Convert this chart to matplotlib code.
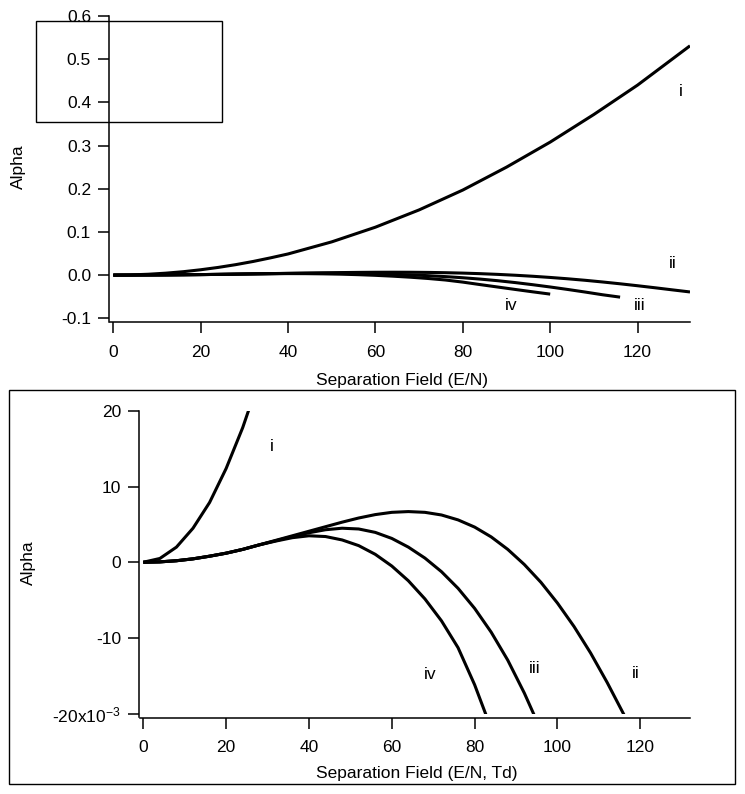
import matplotlib
matplotlib.use("Agg")
import matplotlib.pyplot as plt
from matplotlib.patches import Rectangle

plt.rcParams['font.family'] = ['Liberation Sans', 'DejaVu Sans']
plt.rcParams['mathtext.fontset'] = 'custom'
plt.rcParams['mathtext.rm'] = 'Liberation Sans'
plt.rcParams['mathtext.it'] = 'Liberation Sans'
plt.rcParams['axes.unicode_minus'] = False

# ---- data ----
x_i = [0, 4, 8, 12, 16, 20, 24, 28, 32, 36, 40, 50, 60, 70, 80, 90, 100, 110, 120, 132]
a_i = [0, 0.0005, 0.002, 0.0045, 0.0079, 0.0124, 0.0178, 0.0242, 0.0316, 0.040,
       0.049, 0.077, 0.111, 0.151, 0.197, 0.250, 0.308, 0.372, 0.440, 0.531]

x_ii = [0, 4, 8, 12, 16, 20, 24, 28, 32, 36, 40, 44, 48, 52, 56, 60, 64, 68, 72, 76,
        80, 84, 88, 92, 96, 100, 104, 108, 112, 116, 120, 124, 128, 132]
a_ii = [0, 0.05, 0.2, 0.45, 0.8, 1.2, 1.7, 2.3, 2.9, 3.5, 4.1, 4.7, 5.3, 5.85, 6.3, 6.6,
        6.7, 6.6, 6.25, 5.6, 4.65, 3.35, 1.7, -0.3, -2.65, -5.4, -8.5, -12.0, -15.9, -20.1,
        -24.6, -29.3, -34.2, -39.0]  # x1e-3

x_iii = [0, 4, 8, 12, 16, 20, 24, 28, 32, 36, 40, 44, 48, 52, 56, 60, 64, 68, 72, 76,
         80, 84, 88, 92, 96, 100, 104, 108, 112, 116]
a_iii = [0, 0.05, 0.2, 0.45, 0.8, 1.2, 1.7, 2.3, 2.85, 3.4, 3.9, 4.3, 4.5, 4.4, 3.95,
         3.15, 2.0, 0.55, -1.25, -3.45, -6.1, -9.25, -12.95, -17.3, -22.2, -27.5, -33.2,
         -39.2, -45.5, -51.0]  # x1e-3

x_iv = [0, 4, 8, 12, 16, 20, 24, 28, 32, 36, 40, 44, 48, 52, 56, 60, 64, 68, 72, 76,
        80, 84, 88, 92, 96, 100]
a_iv = [0, 0.05, 0.2, 0.45, 0.8, 1.2, 1.7, 2.3, 2.8, 3.25, 3.5, 3.4, 2.95, 2.2, 1.05,
        -0.5, -2.45, -4.85, -7.75, -11.3, -16.2, -22.0, -27.6, -33.2, -38.7, -44.0]  # x1e-3

series = [
    (x_i, a_i, 1.0),
    (x_ii, a_ii, 1e-3),
    (x_iii, a_iii, 1e-3),
    (x_iv, a_iv, 1e-3),
]

top_yticks = [-0.1, 0.0, 0.1, 0.2, 0.3, 0.4, 0.5, 0.6]
top_yticklabels = ['-0.1', '0.0', '0.1', '0.2', '0.3', '0.4', '0.5', '0.6']
bot_yticks = [-0.02, -0.01, 0.0, 0.01, 0.02]
bot_yticklabels = [r'-20x10$^{-3}$', '-10', '0', '10', '20']
xticks = [0, 20, 40, 60, 80, 100, 120]

W, H = 745, 794
fig = plt.figure(figsize=(W / 100, H / 100), dpi=100)

FS = 12.5
LW = 2.2


def style(ax, ylim, yticks, yticklabels):
    ax.set_xlim(0, 132)
    ax.set_ylim(*ylim)
    for s in ['top', 'right']:
        ax.spines[s].set_visible(False)
    for s in ['left', 'bottom']:
        ax.spines[s].set_position(('outward', 3))
        ax.spines[s].set_linewidth(1.1)
    ax.spines['left'].set_bounds(ylim[0] - (ylim[1] - ylim[0]) * 0.0125, ylim[1])
    ax.spines['bottom'].set_bounds(-0.8, 132)
    ax.set_xticks(xticks)
    ax.set_xticklabels([str(t) for t in xticks])
    ax.set_yticks(yticks)
    ax.set_yticklabels(yticklabels)
    ax.tick_params(direction='out', length=8, width=1.1, labelsize=FS, colors='black')
    ax.tick_params(axis='x', pad=8)
    ax.tick_params(axis='y', pad=5)
    ax.patch.set_visible(False)


# ---- top panel ----
ax1 = fig.add_axes([113.3 / W, 1 - 318.3 / H, (690 - 113.3) / W, (318.3 - 16) / H])
for xs, ys, sc in series:
    ax1.plot(xs, [v * sc for v in ys], color='black', lw=LW, solid_capstyle='butt')
style(ax1, (-0.1, 0.6), top_yticks, top_yticklabels)
ax1.set_ylabel('Alpha', fontsize=FS)
ax1.yaxis.set_label_coords(-0.151, 0.5)
ax1.set_xlabel('Separation Field (E/N)', fontsize=FS)
ax1.xaxis.set_label_coords(0.5, -0.18)
ax1.text(130, 0.426, 'i', fontsize=FS, ha='center', va='center')
ax1.text(128, 0.028, 'ii', fontsize=FS, ha='center', va='center')
ax1.text(120.5, -0.07, 'iii', fontsize=FS, ha='center', va='center')
ax1.text(91, -0.07, 'iv', fontsize=FS, ha='center', va='center')

# ---- bottom panel ----
ax2 = fig.add_axes([143.3 / W, 1 - 713.5 / H, (690 - 143.3) / W, (713.5 - 411) / H])
for xs, ys, sc in series:
    ax2.plot(xs, [v * sc for v in ys], color='black', lw=LW, solid_capstyle='butt')
style(ax2, (-0.02, 0.02), bot_yticks, bot_yticklabels)
ax2.set_ylabel('Alpha', fontsize=FS)
ax2.yaxis.set_label_coords(-0.196, 0.5)
ax2.set_xlabel('Separation Field (E/N, Td)', fontsize=FS)
ax2.xaxis.set_label_coords(0.5, -0.172)
ax2.text(31, 0.0153, 'i', fontsize=FS, ha='center', va='center')
ax2.text(69.3, -0.0149, 'iv', fontsize=FS, ha='center', va='center')
ax2.text(94.4, -0.0141, 'iii', fontsize=FS, ha='center', va='center')
ax2.text(119, -0.0147, 'ii', fontsize=FS, ha='center', va='center')

# ---- boxes ----
fig.patches.append(Rectangle((36 / W, 1 - 122 / H), 186 / W, 101 / H, transform=fig.transFigure,
                             fill=False, edgecolor='black', lw=1.0))
fig.patches.append(Rectangle((9 / W, 1 - 784 / H), 726 / W, 394 / H, transform=fig.transFigure,
                             fill=False, edgecolor='black', lw=1.0))

fig.savefig('out.png', dpi=100)
